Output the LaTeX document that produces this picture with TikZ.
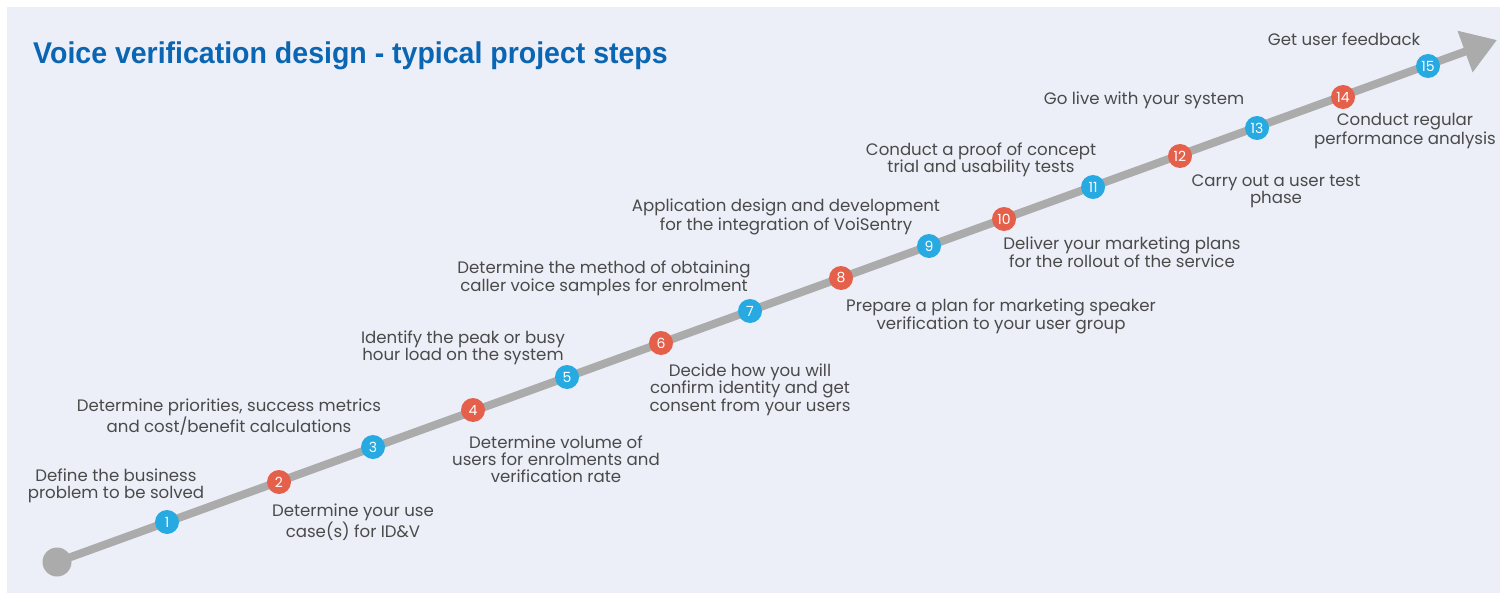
\documentclass[tikz,border=0pt]{standalone}
\usepackage{fontspec}
\setmainfont{Poppins}
\newfontfamily\titlefont{Liberation Sans}
\usetikzlibrary{arrows.meta}
\definecolor{bgc}{HTML}{EDEFF8}
\definecolor{bluestep}{HTML}{27AAE1}
\definecolor{redstep}{HTML}{E5604A}
\definecolor{linegrey}{HTML}{ABABAB}
\definecolor{txt}{HTML}{4A4A4A}
\definecolor{titleblue}{HTML}{0A66B2}
\begin{document}
\begin{tikzpicture}[x=1pt,y=-1pt,
  lbl/.style={align=center, text=txt, font=\fontsize{16.6}{17}\selectfont, inner sep=0pt},
  stepdot/.style={circle, minimum size=24pt, inner sep=0pt, text=white, font=\fontsize{14}{14}\selectfont},
  bstep/.style={stepdot, fill=bluestep},
  rstep/.style={stepdot, fill=redstep}]
\useasboundingbox (0,0) rectangle (1510,599);
\fill[white] (0,0) rectangle (1510,599);
\fill[bgc] (7,7) rectangle (1500,593);
\node[anchor=west, text=titleblue, inner sep=0pt] (title) at (33,56)
  {\titlefont\bfseries\fontsize{30}{34}\selectfont\scalebox{0.95}[1]{Voice verification design - typical project steps}};
% backbone
\node[circle, fill=linegrey, minimum size=29pt, inner sep=0pt] (start) at (57,562) {};
\coordinate (tip) at (1497,40);
\draw[linegrey, line width=8pt, -{Triangle[length=34pt,width=42pt]}] (start.center) -- (tip);
% steps
\node[bstep] (s1) at (167,522) {1};
\node[rstep] (s2) at (279,482) {2};
\node[bstep] (s3) at (373,447) {3};
\node[rstep] (s4) at (473,410) {4};
\node[bstep] (s5) at (567,377) {5};
\node[rstep] (s6) at (661,343) {6};
\node[bstep] (s7) at (750,311) {7};
\node[rstep] (s8) at (841,278) {8};
\node[bstep] (s9) at (929,246) {9};
\node[rstep] (s10) at (1004,219) {10};
\node[bstep] (s11) at (1093,187) {11};
\node[rstep] (s12) at (1180,156) {12};
\node[bstep] (s13) at (1257,128) {13};
\node[rstep] (s14) at (1343,97) {14};
\node[bstep] (s15) at (1428,66) {15};
% labels
\node[lbl] (l1) at (116,486) {Define the business\\problem to be solved};
\node[lbl] (l2) at (353,522) {Determine your use\\case(s) for ID\&V};
\node[lbl] (l3) at (229,417) {Determine priorities, success metrics\\and cost/benefit calculations};
\node[lbl] (l4) at (556,459) {Determine volume of\\users for enrolments and\\verification rate};
\node[lbl] (l5) at (463,348) {Identify the peak or busy\\hour load on the system};
\node[lbl] (l6) at (750,390) {Decide how you will\\confirm identity and get\\consent from your users};
\node[lbl] (l7) at (604,278) {Determine the method of obtaining\\caller voice samples for enrolment};
\node[lbl] (l8) at (1001,316) {Prepare a plan for marketing speaker\\verification to your user group};
\node[lbl] (l9) at (786,217) {Application design and development\\for the integration of VoiSentry};
\node[lbl] (l10) at (1122,252) {Deliver your marketing plans\\for the rollout of the service};
\node[lbl] (l11) at (981,160) {Conduct a proof of concept\\trial and usability tests};
\node[lbl] (l12) at (1276,191) {Carry out a user test\\phase};
\node[lbl] (l13) at (1144,100) {Go live with your system};
\node[lbl] (l14) at (1405,131) {Conduct regular\\performance analysis};
\node[lbl] (l15) at (1344,39) {Get user feedback};
\end{tikzpicture}
\end{document}
